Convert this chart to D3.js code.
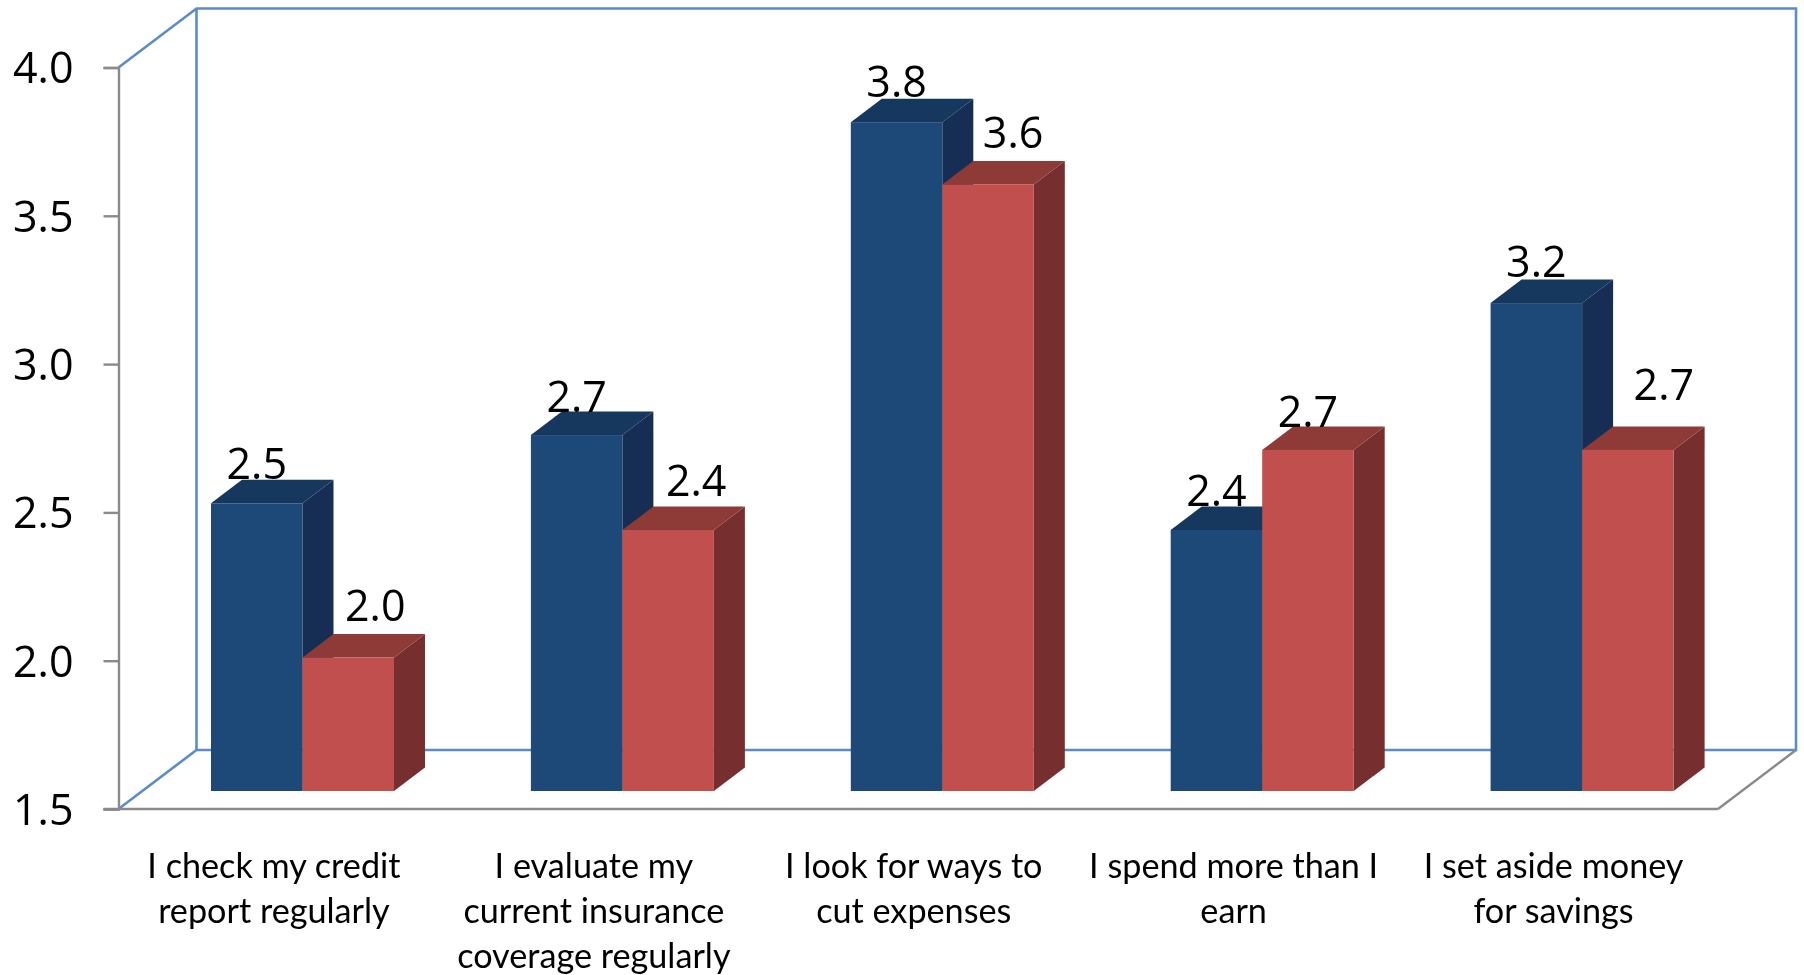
<!DOCTYPE html>
<html><head><meta charset="utf-8">
<script src="https://cdn.jsdelivr.net/npm/d3@7"></script>
<style>html,body{margin:0;padding:0;background:#fff;overflow:hidden}svg{display:block}</style>
</head><body><svg id="c" width="1804" height="975"></svg>
<script>
const categories = ["I check my credit report regularly","I evaluate my current insurance coverage regularly","I look for ways to cut expenses","I spend more than I earn","I set aside money for savings"];
const categoryLines = [["I check my credit","report regularly"],["I evaluate my","current insurance","coverage regularly"],["I look for ways to","cut expenses"],["I spend more than I","earn"],["I set aside money","for savings"]];
const seriesNames = ["Series 1","Series 2"];
const blueValues = [2.47,2.70,3.755,2.38,3.145];
const redValues = [1.95,2.38,3.545,2.65,2.65];
const blueLabels = ["2.5","2.7","3.8","2.4","3.2"];
const redLabels = ["2.0","2.4","3.6","2.7","2.7"];
const yTicks = [1.5,2.0,2.5,3.0,3.5,4.0];
const blueNudge = [[0,-24],[0,-23],[0,-25],[0,-24],[0,-26]];
const redNudge = [[27,-37],[28,-34],[25,-36],[0,-23],[36,-50]];

const svg = d3.select("#c");
const defs = svg.append("defs");
defs.append("filter").attr("id","soft").attr("x","-2%").attr("y","-2%").attr("width","104%").attr("height","104%")
  .append("feGaussianBlur").attr("stdDeviation",0.6);
const root = svg.append("g").attr("filter","url(#soft)");

const y = d3.scaleLinear().domain([1.5,4]).range([809,67.5]);
const x = d3.scaleBand().domain(categories).range([118.5,1718]);
const depth = {wx:78,wy:-59,bx:31,by:-23.5};
const barInset = 92.5, barW = 91.5, barLift = 18;
const inner = d3.scaleBand().domain(seriesNames).range([0,barW*2]);
const wallC = "#5b8cc8", axisC = "#8a8a8a";
const fontNum = "'Open Sans',sans-serif", fontCat = "Lato,sans-serif";

// back wall
const wall = root.append("g").attr("fill","none").attr("stroke",wallC).attr("stroke-width",2.6);
const x0 = x.range()[0], x1 = x.range()[1], yB = y(1.5), yT = y(4);
wall.append("path").attr("d",d3.line()([[x0,yT],[x0+depth.wx,yT+depth.wy],[x1+depth.wx,yT+depth.wy],[x1+depth.wx,yB+depth.wy],[x0+depth.wx,yB+depth.wy],[x0,yB]]));
wall.append("path").attr("d",d3.line()([[x0+depth.wx,yT+depth.wy],[x0+depth.wx,yB+depth.wy]]));

// floor edge on right
root.append("path").attr("fill","none").attr("stroke",axisC).attr("stroke-width",2.4)
  .attr("d",d3.line()([[x1,yB],[x1+depth.wx,yB+depth.wy]]));

// axis
const gy = root.append("g").attr("transform",`translate(${x0},0)`)
  .call(d3.axisLeft(y).tickValues(yTicks).tickFormat(d3.format(".1f")).tickSize(15).tickPadding(30));
gy.select(".domain").attr("stroke",axisC).attr("stroke-width",2.4);
gy.selectAll(".tick line").attr("stroke",axisC).attr("stroke-width",2.4);
gy.selectAll(".tick text").attr("font-family",fontNum).attr("font-size",43).attr("fill","#000").attr("dy","0.36em");
root.append("line").attr("x1",x0-15).attr("x2",x1).attr("y1",yB).attr("y2",yB).attr("stroke",axisC).attr("stroke-width",2.4);

// bars
function box(g, left, top, w, bottom, c){
  const d=depth;
  g.append("path").attr("fill",c.side).attr("d",d3.line()([[left+w,top],[left+w+d.bx,top+d.by],[left+w+d.bx,bottom+d.by],[left+w,bottom]])+"Z");
  g.append("path").attr("fill",c.top).attr("d",d3.line()([[left,top],[left+d.bx,top+d.by],[left+w+d.bx,top+d.by],[left+w,top]])+"Z");
  g.append("rect").attr("x",left).attr("y",top).attr("width",w).attr("height",bottom-top).attr("fill",c.front);
}
const blueC={front:"#1f4878",top:"#17375e",side:"#152f52"}, redC={front:"#c0504d",top:"#8e3a38",side:"#772f2d"};
const barsG = root.append("g");
categories.forEach((cat,i)=>{
  const g = barsG.append("g");
  const base = x(cat)+barInset;
  const bottom = y(1.5)-barLift;
  box(g, base+inner(seriesNames[0]), y(blueValues[i])-barLift, barW, bottom, blueC);
  box(g, base+inner(seriesNames[1]), y(redValues[i])-barLift, barW, bottom, redC);
});

// data labels
const labelG = root.append("g").attr("font-family",fontNum).attr("font-size",43).attr("fill","#000").attr("text-anchor","middle");
categories.forEach((cat,i)=>{
  const base = x(cat)+barInset;
  labelG.append("text").attr("x",base+inner(seriesNames[0])+barW/2+blueNudge[i][0]).attr("y",y(blueValues[i])-barLift+blueNudge[i][1]).text(blueLabels[i]);
  labelG.append("text").attr("x",base+inner(seriesNames[1])+barW/2+redNudge[i][0]).attr("y",y(redValues[i])-barLift+redNudge[i][1]).text(redLabels[i]);
});

// category labels
const catG = root.append("g").attr("font-family",fontCat).attr("font-size",34.2).attr("fill","#000").attr("text-anchor","middle");
categories.forEach((cat,i)=>{
  const t = catG.append("text").attr("x",x(cat)+x.bandwidth()/2-4.5).attr("y",878);
  categoryLines[i].forEach((l,j)=>t.append("tspan").attr("x",x(cat)+x.bandwidth()/2-4.5).attr("y",878+45*j).text(l));
});
</script></body></html>
